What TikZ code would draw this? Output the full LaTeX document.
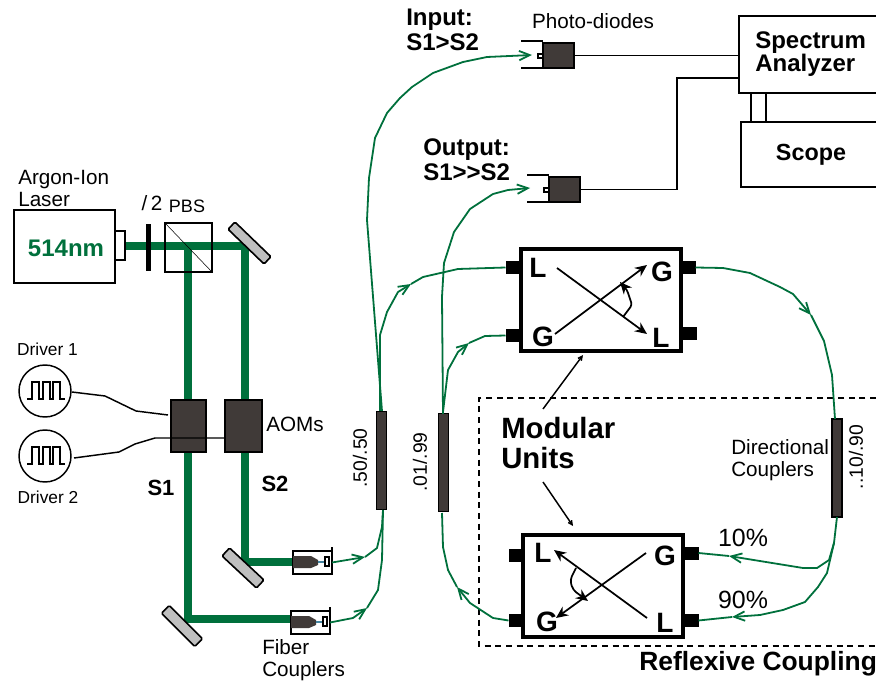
\documentclass[tikz,border=0pt]{standalone}
\usepackage{fontspec}
\setmainfont{Liberation Sans}
\usepackage{tikz}
\usetikzlibrary{arrows.meta,backgrounds}
\definecolor{beamgreen}{RGB}{0,112,60}
\definecolor{darkgrey}{RGB}{64,58,56}

\begin{document}
\begin{tikzpicture}[x=0.75pt,y=-0.75pt,
                    size/.style 2 args={minimum width=#1*0.75pt,minimum height=#2*0.75pt,inner sep=0pt,outer sep=0pt},
                    box/.style={rectangle,draw,line width=1.5pt},
                    module/.style={rectangle,draw,line width=3pt,size={160}{102}},
                    stub/.style={rectangle,fill=black,size={15}{13}},
                    aom/.style={rectangle,draw,line width=1.5pt,fill=darkgrey},
                    coupler/.style={rectangle,draw,line width=1.2pt,fill=darkgrey,size={10}{98}},
                    mirror/.style={rectangle,draw,line width=1.2pt,fill=black!25,rounded corners=1pt},
                    beam/.style={draw=beamgreen,line width=6pt},
                    fiber/.style={draw=beamgreen,line width=1.35pt,line join=round},
                    fibertip/.style={fiber,-{Straight Barb[length=8pt,width=7pt]}},
                    wire/.style={draw,line width=1.1pt},
                    bigarrow/.style={line width=1.3pt,-{Stealth[length=9pt,width=8pt]}},
                    label/.style={inner sep=0pt,align=left,font=\fontsize{15.5}{16.5}\selectfont},
                    small label/.style={inner sep=0pt,font=\fontsize{13}{15}\selectfont},
                    bold label/.style={inner sep=0pt,align=left,font=\fontsize{18}{18.5}\selectfont\bfseries},
                    port/.style={inner sep=0pt,font=\fontsize{21}{21}\selectfont\bfseries}]

       \useasboundingbox (0,0) rectangle (876,681);

       \node[box,size={101}{73}] (laser) at (64.5,246.5) {};
       \node[box,size={10}{29}] (out) at (120,246) {};
       \node[rectangle,fill=black,size={5}{47}] (plate) at (148,247.5) {};
       \node[box,line width=1.2pt,size={47}{49}] (pbs) at (188.5,247.5) {};
       \node[aom,size={35}{52}] (aoma) at (188.5,426) {};
       \node[aom,size={37}{52}] (aomb) at (243.5,426) {};
       \node[mirror,rotate=-44,size={50}{10}] (mirrora) at (249.5,243) {};
       \node[mirror,rotate=-43,size={47}{11}] (mirrorb) at (243,568) {};
       \node[mirror,rotate=-45,size={47}{11}] (mirrorc) at (182,626) {};
       \node[circle,draw,line width=1.1pt,size={52}{52}] (drivera) at (45,391) {};
       \node[circle,draw,line width=1.1pt,size={52}{52}] (driverb) at (45,456) {};

       \foreach \drv in {drivera,driverb}
         \draw[line width=1.1pt,shift={(\drv)}] (-18,8) -- (-13,8) -- (-13,-9) -- (-6,-9) -- (-6,8) -- (-2,8)
           -- (-2,-9) -- (5,-9) -- (5,8) -- (8,8) -- (8,-9) -- (15,-9) -- (15,8) -- (20,8);

       \draw (pbs.north west) -- (pbs.south east);

       \foreach \name/\xx/\yy in {fca/293/551,fcb/291/611} {
         \begin{scope}[shift={(\xx,\yy)}]
           \node[box,line width=1.2pt,size={39}{23}] (\name) at (19.5,11.5) {};
           \fill[darkgrey] (0,5) -- (18,5) -- (25,9) -- (25,14) -- (18,17) -- (0,17) -- cycle;
           \draw[cyan!60!black,line width=1pt] (25,11) -- (32,11);
           \draw[line width=0.9pt] (32,6) rectangle (36,15);
           \draw[line width=0.9pt] (39,-4) -- (39,23);
         \end{scope}
       }

       \foreach \name/\xx/\yy in {pda/543/43,pdb/549/177} {
         \begin{scope}[shift={(\xx,\yy)}]
           \node[rectangle,draw,line width=1.2pt,fill=darkgrey,size={31}{25}] (\name) at (15.5,12.5) {};
           \draw[line width=1.5pt] (-5,11) rectangle (0,15);
           \draw[line width=0.9pt] (-22,-2) -- (0,-2);
           \draw[line width=0.9pt] (-22,25) -- (0,25);
         \end{scope}
       }

       \node[box,size={160}{77}] (analyzer) at (819,54.5) {};
       \node[box,size={160}{65}] (scope) at (821,154.5) {};

       \node[module] (unita) at (601,300) {};
       \node[stub] (ula) at (513,267.5) {};
       \node[stub] (ugb) at (513,335.5) {};
       \node[stub] (uga) at (688,267.5) {};
       \node[stub] (ulb) at (689,334) {};
       \node[module] (unitb) at (603,585.5) {};
       \node[stub] (lla) at (516,555) {};
       \node[stub] (lgb) at (516,620.5) {};
       \node[stub] (lga) at (691,553) {};
       \node[stub] (llb) at (691,620.5) {};

       \node[coupler] (cpa) at (381.5,460.5) {};
       \node[coupler] (cpb) at (443.5,462.5) {};
       \node[coupler] (cpc) at (837,468) {};

       \draw[dashed,line width=1.5pt,dash pattern=on 4.5pt off 3.5pt] (876,398) -- (479,398) -- (479,646) -- (876,646);

       \begin{scope}[on background layer]
         \coordinate (split) at (188,246);
         \coordinate (turna) at (245,246);
         \coordinate (turnb) at (245,562);
         \coordinate (turnc) at (188,619);
         \draw[beam] (out.east) -- (turna) -- (turnb) -- (turnb -| fca.west);
         \draw[beam] (split) -- (turnc) -- (turnc -| fcb.west);
       \end{scope}

       \coordinate (tipa) at (365,557);
       \coordinate (tipb) at (367,608);
       \coordinate (tipc) at (411,284);
       \coordinate (tipd) at (469,343);
       \coordinate (tipe) at (811,315);
       \coordinate (tipf) at (457,587);
       \coordinate (tipg) at (729,556);
       \coordinate (tiph) at (732,617);
       \coordinate (join) at (383,510);
       \coordinate (joinc) at (834,543);

       \draw[fibertip] (fca.east) -- (tipa);
       \draw[fiber] (tipa) -- (377,548) -- (382,527) -- (join);
       \draw[fibertip] (fcb.east) -- (353,618) -- (tipb);
       \draw[fiber] (tipb) -- (378,590) -- (382,560) -- (join);
       \draw[fibertip] (382,411) -- (367,220) -- (369,178) -- (375,138) -- (387,113) -- (400,98) -- (412,87)
         -- (433,73) -- (463,62) -- (487,57) -- (532,55);
       \draw[fibertip] (380,411) -- (380,335) -- (387,312) -- (398,292) -- (tipc);
       \draw[fiber] (tipc) -- (423,277) -- (458,269) -- (ula.west);
       \draw[fibertip] (443,414) -- (442,297) -- (444,263) -- (454,232) -- (470,209) -- (493,194) -- (508,190) -- (530,188);
       \draw[fibertip] (443,412) -- (448,370) -- (458,352) -- (tipd);
       \draw[fiber] (tipd) -- (485,336) -- (ugb.west);
       \draw[fibertip] (uga.east) -- (723,268) -- (750,273) -- (780,287) -- (793,294) -- (tipe);
       \draw[fiber] (tipe) -- (824,341) -- (832,375) -- (835,419);
       \draw[fibertip] (lgb.west) -- (493,618) -- (470,603) -- (tipf);
       \draw[fiber] (tipf) -- (448,570) -- (443,547) -- (442,513);
       \draw[fiber] (837,517) -- (joinc);
       \draw[fiber] (joinc) -- (829,560) -- (817,568) -- (803,568);
       \draw[fibertip] (803,568) -- (tipg);
       \draw[fiber] (tipg) -- (lga.east);
       \draw[fiber] (joinc) -- (827,573) -- (818,587) -- (805,602) -- (783,610) -- (760,615);
       \draw[fibertip] (760,615) -- (tiph);
       \draw[fiber] (tiph) -- (llb.east);

       \coordinate (benda) at (105,396);
       \coordinate (bendb) at (136,411);
       \coordinate (bendc) at (119,452);
       \coordinate (bendd) at (155,438);
       \draw[wire] (drivera.east) ++(1,1) -- (benda) -- (bendb) -- (168,415);
       \draw[wire] (driverb.east) ++(3,2) -- (bendc) -- (135,444) -- (bendd) -- (bendd -| aomb.west);

       \coordinate (bende) at (677,78);
       \coordinate (linea) at (751,100);
       \coordinate (lineb) at (766,100);
       \draw[wire] (pda.east) -- (pda.east -| analyzer.west);
       \draw[wire] (pdb.east) -| (bende) -- (bende -| analyzer.west);
       \draw[wire] (linea |- analyzer.south) -- (linea |- scope.north);
       \draw[wire] (lineb |- analyzer.south) -- (lineb |- scope.north);

       \coordinate (crossa) at (557,268);
       \coordinate (crossb) at (647,334);
       \coordinate (crossc) at (555,334);
       \coordinate (crossd) at (647,265);
       \draw[bigarrow] (crossa) -- (crossb);
       \draw[bigarrow] (crossc) -- (crossd);
       \draw[bigarrow,rounded corners=2pt] (623,317) -- (632,305) -- (627,290) -- (620,282);
       \coordinate (crosse) at (647,618);
       \coordinate (crossf) at (554,550);
       \coordinate (crossg) at (646,553);
       \coordinate (crossh) at (556,618);
       \draw[bigarrow] (crosse) -- (crossf);
       \draw[bigarrow] (crossg) -- (crossh);
       \draw[bigarrow,rounded corners=3pt] (576,568) -- (570,580) -- (573,590) -- (588,601);

       \coordinate (unitsa) at (543,409);
       \coordinate (unitsb) at (583,355);
       \coordinate (unitsc) at (543,482);
       \coordinate (unitsd) at (573,526);
       \draw[line width=1.1pt,-{Straight Barb[length=3pt,width=3pt]}] (unitsa) -- (unitsb);
       \draw[line width=1.1pt,-{Straight Barb[length=3pt,width=3pt]}] (unitsc) -- (unitsd);

       \node[label,anchor=west] (argon) at (18,188) {Argon-Ion\\Laser};
       \node[inner sep=0pt,text=beamgreen,font=\fontsize{18}{18}\selectfont\bfseries] (green) at (66,248) {514nm};
       \node[label,font=\fontsize{15.5}{16}\selectfont] (half) at (152,203) {/\,2};
       \node[small label,font=\fontsize{13.5}{15}\selectfont] (pbstext) at (187,206) {PBS};
       \node[small label] (drva) at (47.5,349) {Driver 1};
       \node[small label] (drvb) at (48,497) {Driver 2};
       \node[bold label,font=\fontsize{16.5}{17}\selectfont\bfseries] (sa) at (161,488) {S1};
       \node[bold label,font=\fontsize{16.5}{17}\selectfont\bfseries] (sb) at (275,484) {S2};
       \node[label,anchor=west] (aoms) at (266,424) {AOMs};
       \node[label,anchor=west] (fibertext) at (262,660) {Fiber\\Couplers};
       \node[label] (diodes) at (593,21) {Photo-diodes};
       \node[bold label,anchor=west] (input) at (406,30) {Input:\\S1>S2};
       \node[bold label,anchor=west] (output) at (423,160) {Output:\\S1{>}{>}S2};
       \node[bold label,anchor=west,font=\fontsize{18}{16}\selectfont\bfseries] (spectrum) at (755,54) {Spectrum\\Analyzer};
       \node[bold label,font=\fontsize{17.5}{18}\selectfont\bfseries] (scopetext) at (811,155) {Scope};
       \node[bold label,anchor=west,font=\fontsize{22}{23}\selectfont\bfseries] (modular) at (501,443) {Modular\\Units};
       \node[label,anchor=west] (directional) at (731,460) {Directional\\Couplers};
       \node[inner sep=0pt,font=\fontsize{18.7}{19}\selectfont] (ten) at (743,538) {10\%};
       \node[inner sep=0pt,font=\fontsize{18.7}{19}\selectfont] (ninety) at (743,600) {90\%};
       \node[inner sep=0pt,anchor=west,font=\fontsize{19.8}{20}\selectfont\bfseries] (reflexive) at (639,664) {Reflexive Coupling};

       \node[port] (pa) at (538,268) {L};
       \node[port] (pb) at (662,272) {G};
       \node[port] (pc) at (543,337) {G};
       \node[port] (pd) at (661,338) {L};
       \node[port] (pe) at (543,553) {L};
       \node[port] (pf) at (665,556) {G};
       \node[port] (pg) at (547,622) {G};
       \node[port] (ph) at (665,623) {L};

       \node[small label,rotate=90,font=\fontsize{14.5}{15}\selectfont] (ratioa) at (360,458) {.50/.50};
       \node[small label,rotate=90,font=\fontsize{14.5}{15}\selectfont] (ratiob) at (420,462) {.01/.99};
       \node[small label,rotate=90,font=\fontsize{14.5}{15}\selectfont] (ratioc) at (856,457) {..10/.90};
     \end{tikzpicture}
\end{document}
